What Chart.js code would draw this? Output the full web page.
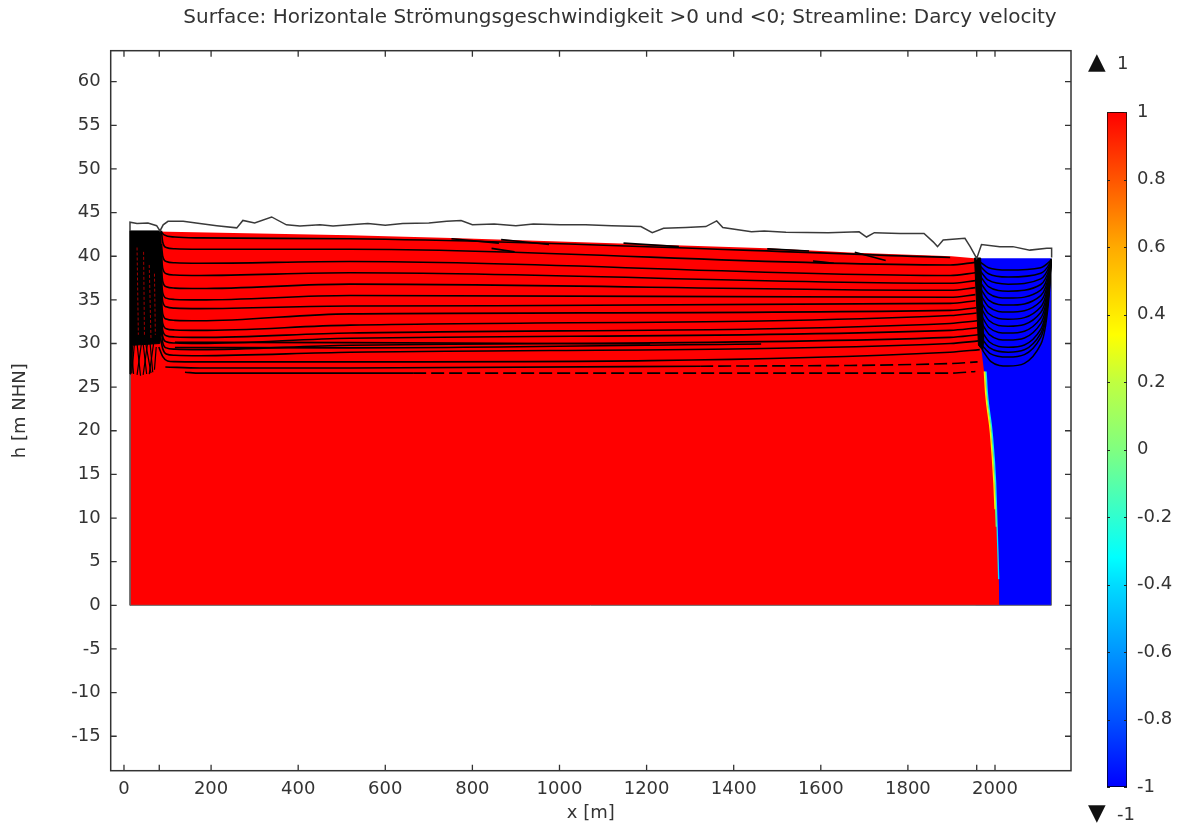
<!DOCTYPE html>
<html><head><meta charset="utf-8">
<script src="https://cdn.jsdelivr.net/npm/chart.js@4.4.0/dist/chart.umd.min.js"></script>
<style>
html,body{margin:0;padding:0;background:#fff;}
#wrap{position:relative;width:1184px;height:828px;overflow:hidden;}
#main{position:absolute;left:0;top:0;width:1184px;height:828px;}
#cbar{position:absolute;left:1080px;top:0;width:104px;height:828px;}
</style></head><body>
<div id="wrap"><canvas id="main" width="1184" height="828"></canvas><canvas id="cbar" width="104" height="828"></canvas></div>
<script>
// ---------- texts ----------
const titleText = 'Surface: Horizontale Strömungsgeschwindigkeit >0 und <0; Streamline: Darcy velocity';
const xTitle = 'x [m]';
const yTitle = 'h [m NHN]';

// ---------- ticks ----------
const xTickValues = [0, 81, 200, 400, 600, 800, 1000, 1200, 1400, 1600, 1800, 1958, 2000];
const xTickLabeled = [0, 200, 400, 600, 800, 1000, 1200, 1400, 1600, 1800, 2000];
const yTickValues = [-15, -10, -5, 0, 5, 10, 15, 20, 25, 30, 35, 40, 45, 50, 55, 60];
const cbarTickValues = [-1, -0.8, -0.6, -0.4, -0.2, 0, 0.2, 0.4, 0.6, 0.8, 1];
const xRange = [-30.5, 2174.5];
const yRange = [-18.95, 63.55];
const cbarRange = [-1, 1];
const cbarMarkers = ['▲ 1', '▼ -1'];

// ---------- surface (horizontal velocity sign) ----------
const blueRegionTop = [[1955, 39.78], [2129.5, 39.78]];
const redRegionTop = [[13.8, 42.9], [519, 42.4], [752, 42.1], [1477, 40.9], [1678, 40.4], [1900, 40.0], [1959, 39.75],
  [1966, 30], [1969, 29.2], [1981, 24.3], [1992, 19.75], [2000, 14], [2007.6, 6.3], [2010, 0]];
const domainOutline = [[13.8, 42.9], [13.8, 0], [2129.5, 0], [2129.5, 39.78]];
const stripYellow = [[1975.5, 26.8], [1978.5, 24.3], [1989.5, 19.75], [1997.5, 14], [2000, 11]];
const stripGreen = [[1977.5, 26.8], [1980.5, 24.3], [1991.5, 19.75], [1999.5, 14], [2003, 9]];
const stripCyan = [[1979.5, 26.8], [1982.5, 24.3], [1993.5, 19.75], [2001.5, 14], [2006.5, 6.3], [2008.5, 3]];

// ground surface line
const groundLine = [[13.8, 42.9], [13.8, 43.9], [30, 43.75], [55, 43.8], [75, 43.5], [82.7, 42.9], [90, 43.6], [101, 44.0],
  [136, 44.0], [174, 43.75], [213, 43.5], [259, 43.25], [273, 44.1], [300, 43.8], [339, 44.5], [373, 43.6], [404, 43.45],
  [450, 43.6], [480, 43.45], [519, 43.6], [560, 43.75], [600, 43.55], [640, 43.75], [700, 43.8], [741, 44.0], [774, 44.1], [800, 43.6],
  [850, 43.7], [900, 43.5], [940, 43.7], [1002, 43.6], [1060, 43.6], [1120, 43.5], [1187, 43.4], [1213, 42.7], [1239, 43.2],
  [1290, 43.3], [1336, 43.4], [1361, 44.05], [1375, 43.3], [1441, 42.8], [1470, 42.9], [1520, 42.75], [1617, 42.7],
  [1688, 42.8], [1705, 42.2], [1723, 42.7], [1782, 42.6], [1837, 42.6], [1858, 41.65], [1868, 41.1], [1881, 41.85],
  [1931, 42.05], [1943, 41.1], [1958, 39.75], [1969, 41.35], [2011, 41.1], [2041, 41.1], [2080, 40.7], [2119, 40.9],
  [2130, 40.9], [2130, 39.85]];

// dense streamline zones (well at left, boundary band at right)
const wellBlock = [[13.8, 42.9], [84, 42.9], [86.5, 40], [87, 35], [86, 31.5], [82, 30], [20, 29.8], [16, 26.5], [13.8, 26.5], [13.8, 42.9]];
const boundaryBand = [[1953, 39.8], [1967, 39.8], [1974, 30.5], [1972, 29.2], [1962, 29.8], [1953, 39.8]];
const wellFan = [
  [[16, 30], [22, 26.5]], [[24, 30], [18, 26.6]], [[30, 30], [38, 26.3]], [[40, 30], [30, 26.4]],
  [[44, 30], [52, 26.5]], [[54, 30], [44, 26.4]], [[60, 30], [66, 26.7]], [[68, 30], [58, 26.5]],
  [[74, 29.6], [70, 27.0]], [[50, 30], [62, 26.6]]];
const wellStreaks = [[[30, 41], [33, 31]], [[45, 40.5], [47, 31]], [[58, 39], [62, 30.5]], [[70, 38], [72, 31]]];

// streamlines in the red zone
const redStreamlines = [
  [[84, 42.9], [92, 42.45], [117, 42.2], [174, 42.1], [519, 42.0], [1897, 39.85]],
  [[86, 42.9], [89, 41.6], [97, 41.0], [117, 40.85], [174, 40.8], [519, 40.8], [1897, 39.0], [1955, 39.3]],
  [[86, 41.4], [89, 40.0], [97, 39.4], [117, 39.25], [174, 39.2], [519, 39.4], [1897, 37.8], [1955, 38.1]],
  [[86, 40.0], [89, 38.6], [97, 38.0], [117, 37.85], [174, 37.8], [519, 38.1], [1897, 36.9], [1955, 37.2]],
  [[86, 38.5], [89, 37.1], [97, 36.5], [117, 36.35], [174, 36.3], [519, 36.8], [1897, 36.1], [1955, 36.4]],
  [[86, 37.2], [89, 35.8], [97, 35.2], [117, 35.05], [174, 35.0], [519, 35.5], [1897, 35.3], [1955, 35.6]],
  [[86, 36.2], [89, 34.8], [97, 34.2], [117, 34.05], [174, 34.0], [519, 34.3], [1897, 34.6], [1955, 34.9]],
  [[86, 34.8], [89, 33.4], [97, 32.8], [117, 32.65], [174, 32.6], [519, 33.4], [1897, 33.8], [1957, 34.1]],
  [[86, 33.7], [89, 32.3], [97, 31.7], [117, 31.55], [174, 31.5], [519, 32.1], [1897, 33.2], [1958, 33.5]],
  [[86, 32.9], [89, 31.5], [97, 30.9], [117, 30.75], [174, 30.7], [519, 31.2], [1897, 32.3], [1959, 32.6]],
  [[86, 32.2], [89, 30.8], [97, 30.2], [117, 30.05], [174, 30.0], [519, 30.6], [1897, 31.5], [1960, 31.8]],
  [[86, 31.5], [89, 30.1], [97, 29.5], [117, 29.35], [174, 29.3], [519, 29.8], [1897, 30.7], [1961, 31.0]],
  [[84, 30.6], [89, 29.4], [97, 28.8], [117, 28.65], [174, 28.6], [519, 29.0], [1897, 30.0], [1962, 30.3]],
  [[80, 29.6], [89, 28.5], [100, 28.0], [117, 27.92], [174, 27.9], [519, 27.9], [1897, 29.0], [1965, 29.3]],
  [[117, 30.15], [519, 30.1], [1208, 29.95]],
  [[117, 29.55], [519, 29.5], [1463, 29.95]],
  [[752, 42.0], [861, 41.5]], [[866, 41.9], [976, 41.35]], [[844, 40.9], [897, 40.5]],
  [[1147, 41.5], [1274, 41.1]], [[1477, 40.85], [1573, 40.6]], [[1582, 39.45], [1630, 39.2]], [[1678, 40.45], [1749, 39.5]]
];
// lower streamlines that break into dashes; second array = x where dashes start
const dashedStreamlines = [
  [[95, 27.3], [174, 27.2], [519, 27.2], [1323, 27.4], [1897, 27.7], [1960, 27.9]],
  [[140, 26.7], [174, 26.6], [519, 26.6], [664, 26.6], [1897, 26.6], [1955, 26.8]]
];
const dashStarts = [1323, 664];

// streamlines in the blue zone
const blueStreamlines = [
  [[1966, 39.32], [1985, 38.68], [2030, 38.41], [2105, 38.69], [2125, 39.38], [2128.5, 39.6]],
  [[1966, 38.87], [1985, 37.99], [2030, 37.61], [2105, 38.05], [2125, 39.14], [2128.5, 39.6]],
  [[1966, 38.30], [1985, 37.25], [2030, 36.80], [2105, 37.40], [2125, 38.90], [2128.5, 39.6]],
  [[1966, 37.73], [1985, 36.52], [2030, 36.00], [2105, 36.76], [2125, 38.66], [2128.5, 39.6]],
  [[1966, 37.03], [1985, 35.75], [2030, 35.20], [2105, 36.12], [2125, 38.42], [2128.5, 39.6]],
  [[1966, 36.35], [1985, 34.98], [2030, 34.40], [2105, 35.48], [2125, 38.18], [2128.5, 39.6]],
  [[1966, 35.66], [1985, 34.22], [2030, 33.60], [2105, 34.84], [2125, 37.94], [2128.5, 39.6]],
  [[1966, 34.97], [1985, 33.44], [2030, 32.79], [2105, 34.19], [2125, 37.70], [2128.5, 39.6]],
  [[1967, 34.17], [1986, 32.64], [2030, 31.99], [2105, 33.55], [2125, 37.46], [2128.5, 39.6]],
  [[1967, 33.37], [1986, 31.84], [2030, 31.19], [2105, 32.91], [2125, 37.22], [2128.5, 39.6]],
  [[1968, 32.45], [1987, 31.01], [2030, 30.39], [2105, 32.27], [2125, 36.98], [2128.5, 39.6]],
  [[1968, 31.53], [1987, 30.17], [2030, 29.58], [2105, 31.62], [2125, 36.73], [2128.5, 39.6]],
  [[1969, 30.62], [1988, 29.49], [2030, 29.01], [2105, 31.17], [2125, 36.56], [2128.5, 39.6]],
  [[1970, 29.81], [1989, 28.85], [2030, 28.44], [2105, 30.71], [2125, 36.39], [2128.5, 39.6]],
  [[1971, 29.24], [1990, 27.96], [2030, 27.41], [2105, 29.89], [2125, 36.08], [2128.5, 39.6]]
];

// colour map of the colour bar (position 0 = -1, 1 = +1)
const cbarStops = [[0, '#0000ff'], [0.1, '#0050ff'], [0.2, '#0096ff'], [0.3, '#00dcff'], [0.34, '#00ffff'],
  [0.42, '#40ffc0'], [0.5, '#80ff80'], [0.6, '#c0ff40'], [0.67, '#ffff00'], [0.8, '#ffaa00'], [0.9, '#ff5500'], [1, '#ff0000']];

// ---------- build ----------
const FONT = '"DejaVu Sans", "Noto Sans", sans-serif';
Chart.defaults.font.family = FONT;
Chart.defaults.font.size = 18;
Chart.defaults.color = '#333';

const pts = a => a.map(p => ({x: p[0], y: p[1]}));
const datasets = [];
function line(arr, o) {
  datasets.push(Object.assign({data: pts(arr), borderColor: '#000', borderWidth: 1.6, pointRadius: 0, fill: false,
    tension: 0, cubicInterpolationMode: 'monotone'}, o));
}
line(blueRegionTop, {fill: 'origin', backgroundColor: '#0000ff', borderWidth: 0, borderColor: '#0000ff', order: 100, cubicInterpolationMode: 'default'});
line(redRegionTop, {fill: 'origin', backgroundColor: '#ff0000', borderWidth: 0, borderColor: '#ff0000', order: 90, cubicInterpolationMode: 'default'});
line(domainOutline, {borderColor: '#666', borderWidth: 1, order: 85, cubicInterpolationMode: 'default'});
line(stripYellow, {borderColor: '#ffee00', borderWidth: 1.3, order: 80});
line(stripGreen, {borderColor: '#60ff80', borderWidth: 1.3, order: 80});
line(stripCyan, {borderColor: '#00e0ff', borderWidth: 1.3, order: 80});
line(wellBlock, {fill: 'shape', backgroundColor: '#000', borderWidth: 1, order: 70, cubicInterpolationMode: 'default'});
line(boundaryBand, {fill: 'shape', backgroundColor: '#000', borderWidth: 1, order: 70, cubicInterpolationMode: 'default'});
wellStreaks.forEach(s => line(s, {borderColor: '#b00000', borderWidth: 0.9, borderDash: [3, 2], order: 65}));
wellFan.forEach(s => line(s, {borderWidth: 1.2, order: 60}));
redStreamlines.forEach(s => line(s, {order: 50}));
dashedStreamlines.forEach((s, i) => line(s, {order: 50,
  segment: {borderDash: c => c.p0.parsed.x >= dashStarts[i] - 0.01 ? [13, 5] : undefined}}));
blueStreamlines.forEach(s => line(s, {borderWidth: 1.5, order: 50}));
line(groundLine, {borderColor: '#3a3a3a', borderWidth: 1.5, order: 10, cubicInterpolationMode: 'default'});

const framePlugin = {
  id: 'frame',
  afterDraw(chart) {
    const {ctx, chartArea: a, scales: {x, y}} = chart;
    ctx.save();
    ctx.strokeStyle = '#333';
    ctx.lineWidth = 1.5;
    ctx.strokeRect(a.left, a.top, a.right - a.left, a.bottom - a.top);
    ctx.lineWidth = 1.3;
    ctx.beginPath();
    x.ticks.forEach(t => { const p = x.getPixelForValue(t.value);
      ctx.moveTo(p, a.bottom); ctx.lineTo(p, a.bottom - 6); ctx.moveTo(p, a.top); ctx.lineTo(p, a.top + 6); });
    y.ticks.forEach(t => { const p = y.getPixelForValue(t.value);
      ctx.moveTo(a.left, p); ctx.lineTo(a.left + 6, p); ctx.moveTo(a.right, p); ctx.lineTo(a.right - 6, p); });
    ctx.stroke();
    ctx.fillStyle = '#333';
    ctx.font = '20px ' + FONT;
    ctx.textAlign = 'center';
    ctx.textBaseline = 'middle';
    ctx.fillText(titleText, 620, 18);
    ctx.restore();
  }
};

new Chart(document.getElementById('main'), {
  type: 'line',
  data: {datasets},
  options: {
    responsive: false, animation: false, events: [],
    layout: {padding: {left: 0, top: 50.7, right: 113, bottom: 0}},
    plugins: {legend: {display: false}, tooltip: {enabled: false}, title: {display: false}},
    scales: {
      x: {type: 'linear', min: xRange[0], max: xRange[1],
        afterBuildTicks: s => { s.ticks = xTickValues.map(v => ({value: v})); },
        afterFit: s => { s.height = 57.3; },
        grid: {display: false, drawTicks: false, tickLength: 0}, border: {display: false},
        ticks: {autoSkip: false, maxRotation: 0, padding: 8,
          callback: v => xTickLabeled.includes(v) ? String(v) : ''},
        title: {display: true, text: xTitle, padding: {top: 0, bottom: 4}}},
      y: {type: 'linear', min: yRange[0], max: yRange[1],
        afterBuildTicks: s => { s.ticks = yTickValues.map(v => ({value: v})); },
        afterFit: s => { s.width = 110.7; },
        grid: {display: false, drawTicks: false, tickLength: 0}, border: {display: false},
        ticks: {autoSkip: false, padding: 10, callback: v => String(v)},
        title: {display: true, text: yTitle, padding: {top: 10, bottom: 0}}}
    }
  },
  plugins: [framePlugin]
});

// ---------- colour bar ----------
const cbarDeco = {
  id: 'cbarDeco',
  afterDraw(chart) {
    const {ctx, chartArea: a, scales: {y}} = chart;
    ctx.save();
    ctx.strokeStyle = '#222';
    ctx.lineWidth = 1;
    ctx.beginPath();
    y.ticks.forEach(t => { const p = Math.round(y.getPixelForValue(t.value)) + 0.5;
      ctx.moveTo(a.left, p); ctx.lineTo(a.left + 3, p); ctx.moveTo(a.right, p); ctx.lineTo(a.right - 3, p); });
    ctx.stroke();
    ctx.fillStyle = '#111';
    ctx.textBaseline = 'middle';
    ctx.textAlign = 'left';
    const [up, down] = cbarMarkers.map(s => s.split(' '));
    ctx.font = '23px ' + FONT;
    ctx.fillText(up[0], 8, 63);
    ctx.fillText(down[0], 8, 814);
    ctx.fillStyle = '#333';
    ctx.font = '18px ' + FONT;
    ctx.fillText(up[1], 37, 64);
    ctx.fillText(down[1], 37, 815);
    ctx.restore();
  }
};
new Chart(document.getElementById('cbar'), {
  type: 'bar',
  data: {labels: [''], datasets: [{
    data: [cbarRange],
    backgroundColor: c => {
      const area = c.chart.chartArea;
      if (!area) return '#888';
      const g = c.chart.ctx.createLinearGradient(0, area.bottom, 0, area.top);
      cbarStops.forEach(s => g.addColorStop(s[0], s[1]));
      return g;
    },
    borderColor: '#000', borderWidth: 1, borderSkipped: false,
    barPercentage: 1, categoryPercentage: 1}]},
  options: {
    responsive: false, animation: false, events: [],
    layout: {padding: {left: 27, top: 112, bottom: 41, right: 0}},
    plugins: {legend: {display: false}, tooltip: {enabled: false}},
    scales: {
      x: {display: false},
      y: {position: 'right', min: cbarRange[0], max: cbarRange[1],
        afterBuildTicks: s => { s.ticks = cbarTickValues.map(v => ({value: v})); },
        afterFit: s => { s.width = 57; },
        grid: {display: false, drawTicks: false, tickLength: 0}, border: {display: false},
        ticks: {padding: 10, callback: v => Math.abs(v) < 1e-9 ? '0' : String(+v.toFixed(1))}}
    }
  },
  plugins: [cbarDeco]
});
</script>
</body></html>
